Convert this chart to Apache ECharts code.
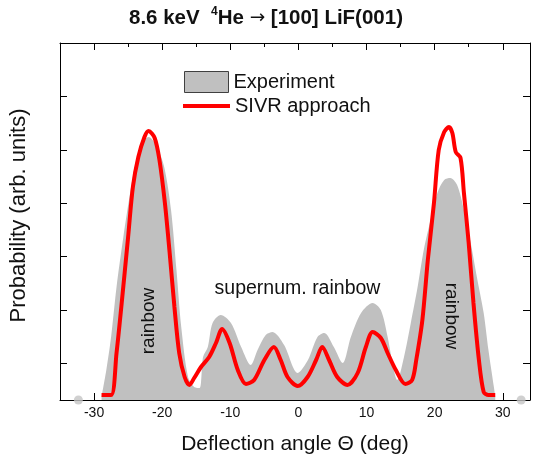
<!DOCTYPE html>
<html>
<head>
<meta charset="utf-8">
<script src="https://cdn.jsdelivr.net/npm/echarts@6/dist/echarts.min.js"></script>
<style>
html,body{margin:0;padding:0;background:#fff;}
#chart{width:534px;height:464px;}
</style>
</head>
<body>
<div id="chart"></div>
<script>
// Experiment (grey filled) : deflection angle (deg) and probability (arb. units)
var expAngle = [-28.9, -28.2, -27.5, -26.7, -25.7, -24.8, -23.8, -22.8, -22.0, -20.9, -19.7, -18.7, -17.9, -17.2, -16.2, -15.3, -14.5, -14.0, -13.3, -12.6, -11.4, -9.9, -8.4, -7.0, -6.0, -4.8, -3.8, -2.1, -0.1, 1.4, 2.8, 3.8, 5.2, 6.5, 7.7, 9.2, 10.9, 12.1, 13.1, 14.0, 14.5, 15.5, 16.5, 17.5, 18.4, 19.4, 20.4, 21.4, 22.3, 23.3, 24.3, 25.3, 26.2, 27.2, 27.9, 28.7, 28.9];
var expProb  = [3, 30, 63, 113, 163, 203, 240, 258, 263, 255, 233, 190, 130, 73, 23, 13, 12, 43, 53, 77, 85, 77, 53, 35, 50, 65, 68, 55, 27, 40, 63, 67, 53, 37, 63, 87, 97, 90, 63, 30, 20, 43, 77, 113, 150, 180, 207, 220, 222, 215, 190, 157, 123, 87, 50, 13, 3];
// isolated experimental points near the edges
var expDotAngle = [-32.3, 32.7];
var expDotProb = [0, 0];
// SIVR approach (red line)
var sivrAngle = [-28.9, -27.5, -26.7, -26.0, -25.0, -24.3, -23.5, -22.6, -22.0, -21.1, -20.4, -19.6, -18.9, -18.2, -17.5, -16.7, -16.0, -15.3, -14.3, -13.1, -12.1, -11.2, -10.1, -8.9, -7.7, -6.5, -5.0, -3.6, -2.6, -1.6, -0.1, 1.35, 2.6, 3.5, 4.5, 5.7, 7.2, 8.7, 9.9, 10.9, 12.1, 13.1, 14.3, 15.7, 16.7, 17.3, 18.2, 19.0, 19.9, 20.6, 21.4, 22.1, 22.6, 23.1, 23.8, 24.3, 25.0, 25.7, 26.5, 27.2, 27.9, 28.9];
var sivrProb  = [5, 5, 47, 93, 163, 213, 243, 263, 269, 262, 240, 197, 147, 93, 47, 23, 15, 22, 33, 43, 57, 71, 57, 30, 16, 20, 40, 53, 40, 23, 14, 23, 40, 53, 40, 23, 15, 27, 53, 68, 62, 47, 30, 16, 20, 40, 80, 140, 197, 250, 268, 273, 267, 248, 242, 207, 157, 97, 40, 8, 5, 5];
// axis ticks
var xMajorTicks = [-30, -20, -10, 0, 10, 20, 30];
var xMinorTicks = [-25, -15, -5, 5, 15, 25];
var yTicks = [36.7, 90, 143.3, 196.7, 250, 303.3];

function zip(a, b) { return a.map(function (v, i) { return [v, b[i]]; }); }

var FONT = 'Liberation Sans, Arial, sans-serif';
var chart = echarts.init(document.getElementById('chart'));

function xAx(pos, ticks, len, showLabel, showLine) {
  return {
    type: 'value', min: -35, max: 34, position: pos, gridIndex: 0,
    axisLine: { show: showLine, onZero: false, lineStyle: { color: '#000', width: 1 } },
    axisTick: { show: true, inside: true, length: len, customValues: ticks, lineStyle: { color: '#000', width: 1 } },
    axisLabel: { show: showLabel, customValues: ticks, margin: 6, fontSize: 14, color: '#111', fontFamily: FONT },
    splitLine: { show: false }
  };
}
function yAx(pos, showName) {
  var o = {
    type: 'value', min: 0, max: 357, position: pos, gridIndex: 0,
    axisLine: { show: true, onZero: false, lineStyle: { color: '#000', width: 1 } },
    axisTick: { show: true, inside: true, length: 7, customValues: yTicks, lineStyle: { color: '#000', width: 1 } },
    axisLabel: { show: false },
    splitLine: { show: false }
  };
  if (showName) {
    o.name = 'Probability (arb. units)';
    o.nameLocation = 'middle';
    o.nameGap = 30;
    o.nameTextStyle = { fontSize: 22, color: '#111', fontFamily: FONT, padding: [0, 0, 0, 12] };
  }
  return o;
}

var xb = xAx('bottom', xMajorTicks, 7, true, true);
xb.name = 'Deflection angle \u0398 (deg)';
xb.nameLocation = 'middle';
xb.nameGap = 34;
xb.nameTextStyle = { fontSize: 21, color: '#111', fontFamily: FONT };

var option = {
  animation: false,
  backgroundColor: '#fff',
  title: {
    text: '{b|8.6 keV  }{s|4}{b|He }{a|\u2192}{b| [100] LiF(001)}',
    left: 124, top: 1,
    textStyle: {
      rich: {
        b: { fontSize: 20.5, fontWeight: 'bold', color: '#111', fontFamily: FONT, lineHeight: 24 },
        a: { fontSize: 18.5, fontWeight: 'normal', color: '#111', fontFamily: 'DejaVu Sans, sans-serif', lineHeight: 24 },
        s: { fontSize: 12, fontWeight: 'bold', color: '#111', fontFamily: FONT, verticalAlign: 'top', lineHeight: 14, padding: [0, 0, 8, 0] }
      }
    }
  },
  grid: { left: 58, right: 4, top: 43, bottom: 64, containLabel: false },
  xAxis: [
    xb,
    xAx('bottom', xMinorTicks, 4, false, false),
    xAx('top', xMajorTicks, 7, false, true),
    xAx('top', xMinorTicks, 4, false, false)
  ],
  yAxis: [yAx('left', true), yAx('right', false)],
  legend: [
    {
      data: [{ name: 'Experiment', icon: 'rect', itemStyle: { color: '#c0c0c0', borderColor: '#404040', borderWidth: 1 } }],
      left: 184, top: 71, padding: 0, itemWidth: 44, itemHeight: 21, itemGap: 5,
      textStyle: { fontSize: 20, color: '#111', fontFamily: FONT }
    },
    {
      data: [{ name: 'SIVR approach', icon: 'rect', itemStyle: { color: '#ff0000' } }],
      left: 183, top: 96, padding: 0, itemWidth: 47, itemHeight: 4, itemGap: 5,
      textStyle: { fontSize: 20, color: '#111', fontFamily: FONT }
    }
  ],
  graphic: [
    { type: 'text', z: 100, x: 149, y: 321, rotation: Math.PI / 2, style: { text: 'rainbow', fontSize: 19, fill: '#111', fontFamily: FONT, align: 'center', verticalAlign: 'middle' } },
    { type: 'text', z: 100, x: 451, y: 316, rotation: -Math.PI / 2, style: { text: 'rainbow', fontSize: 19, fill: '#111', fontFamily: FONT, align: 'center', verticalAlign: 'middle' } },
    { type: 'text', z: 100, x: 297.5, y: 289, style: { text: 'supernum. rainbow', fontSize: 19.5, fill: '#111', fontFamily: FONT, align: 'center', verticalAlign: 'middle' } }
  ],
  series: [
    {
      name: 'Experiment', type: 'line', xAxisIndex: 0, yAxisIndex: 0,
      data: zip(expAngle, expProb), smooth: 0.3, showSymbol: false, symbol: 'none',
      lineStyle: { width: 0, color: '#c0c0c0' }, itemStyle: { color: '#c0c0c0' },
      areaStyle: { color: '#c0c0c0', opacity: 1 }, z: 1
    },
    {
      name: 'dots', type: 'scatter', xAxisIndex: 0, yAxisIndex: 0,
      data: zip(expDotAngle, expDotProb), symbolSize: 9, clip: true,
      itemStyle: { color: '#c4c4c4' }, z: 1
    },
    {
      name: 'SIVR approach', type: 'line', xAxisIndex: 0, yAxisIndex: 0,
      data: zip(sivrAngle, sivrProb), smooth: 0.3, showSymbol: false, symbol: 'none',
      lineStyle: { width: 4, color: '#ff0000' }, itemStyle: { color: '#ff0000' }, z: 3
    }
  ]
};
chart.setOption(option);
</script>
</body>
</html>
